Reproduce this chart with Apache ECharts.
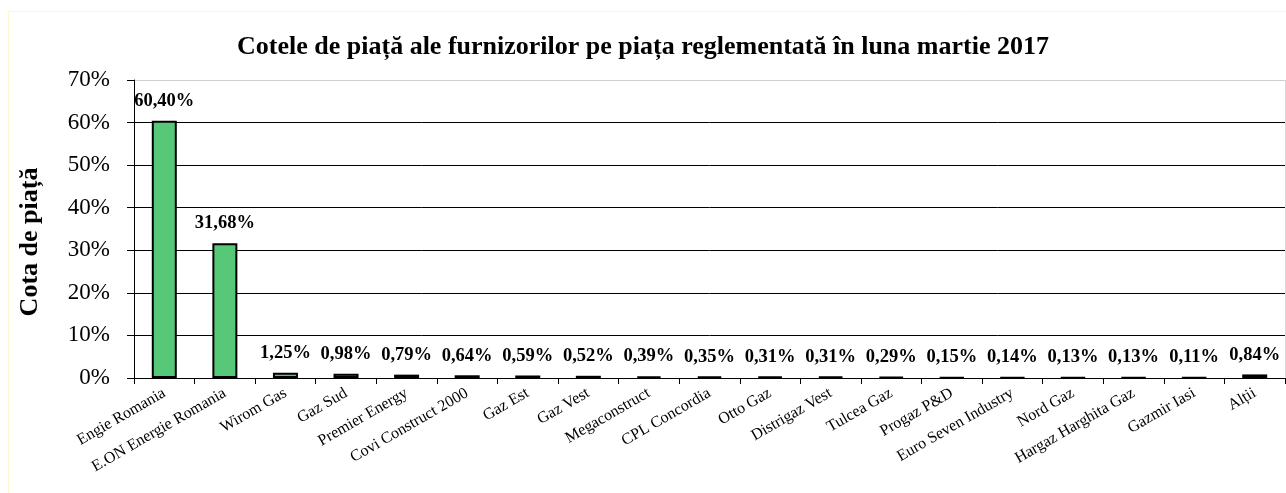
<!DOCTYPE html>
<html><head><meta charset="utf-8">
<script src="https://cdn.jsdelivr.net/npm/echarts@6/dist/echarts.min.js"></script>
<style>html,body{margin:0;padding:0;background:#fff}#c{width:1286px;height:493px}</style>
</head><body><div id="c"></div>
<script>
const categories = ["Engie Romania","E.ON Energie Romania","Wirom Gas","Gaz Sud","Premier Energy","Covi Construct 2000","Gaz Est","Gaz Vest","Megaconstruct","CPL Concordia","Otto Gaz","Distrigaz Vest","Tulcea Gaz","Progaz P&D","Euro Seven Industry","Nord Gaz","Hargaz Harghita Gaz","Gazmir Iasi","Alții"];
const shares = [60.40,31.68,1.25,0.98,0.79,0.64,0.59,0.52,0.39,0.35,0.31,0.31,0.29,0.15,0.14,0.13,0.13,0.11,0.84];
const yTicks = [0,10,20,30,40,50,60,70];
const titleText = "Cotele de piață ale furnizorilor pe piața reglementată în luna martie 2017";
const yName = "Cota de piață";
const serif = "'Liberation Serif','Times New Roman',serif";
const chart = echarts.init(document.getElementById('c'));
chart.setOption({
  animation:false,
  graphic:[{type:'rect',silent:true,z:-10,shape:{x:8.5,y:11.5,width:1400,height:600},style:{fill:'none',stroke:'#fdf6d2',lineWidth:1}},
           {type:'line',silent:true,shape:{x1:1285.5,y1:80,x2:1285.5,y2:378},style:{stroke:'#d8d8d8',lineWidth:1}}],
  title:{text:titleText,left:'center',top:29,textStyle:{fontFamily:serif,fontSize:26,fontWeight:'bold',color:'#000'}},
  grid:{left:134,right:1,top:80,bottom:115},
  xAxis:{type:'category',data:categories,
    axisLine:{lineStyle:{color:'#000',width:1}},
    axisTick:{show:true,alignWithLabel:false,length:6,lineStyle:{color:'#000'}},
    axisLabel:{rotate:30,fontFamily:serif,fontSize:16,color:'#000',margin:14,interval:0}},
  yAxis:{type:'value',min:0,max:70,interval:10,
    name:yName,nameLocation:'middle',nameGap:91,nameRotate:90,
    nameTextStyle:{fontFamily:serif,fontSize:26,fontWeight:'bold',color:'#000',padding:[0,26,0,0]},
    axisLine:{show:true,lineStyle:{color:'#000'}},
    axisTick:{show:true,length:7,lineStyle:{color:'#000'}},
    splitLine:{lineStyle:{color:['#000','#000','#000','#000','#000','#000','#000','#cfcfcf'],width:1}},
    axisLabel:{fontFamily:serif,fontSize:23,color:'#000',margin:24,
      formatter:v=>yTicks.includes(v)?v+'%':''}},
  series:[{type:'bar',data:shares,barWidth:25,
    itemStyle:{color:'#57c878',borderColor:'#000',borderWidth:2},
    label:{show:true,position:'top',distance:10,fontFamily:serif,fontSize:18.5,fontWeight:'bold',color:'#000',
      formatter:p=>p.value.toFixed(2).replace('.',',')+'%'}}]
});
</script></body></html>
